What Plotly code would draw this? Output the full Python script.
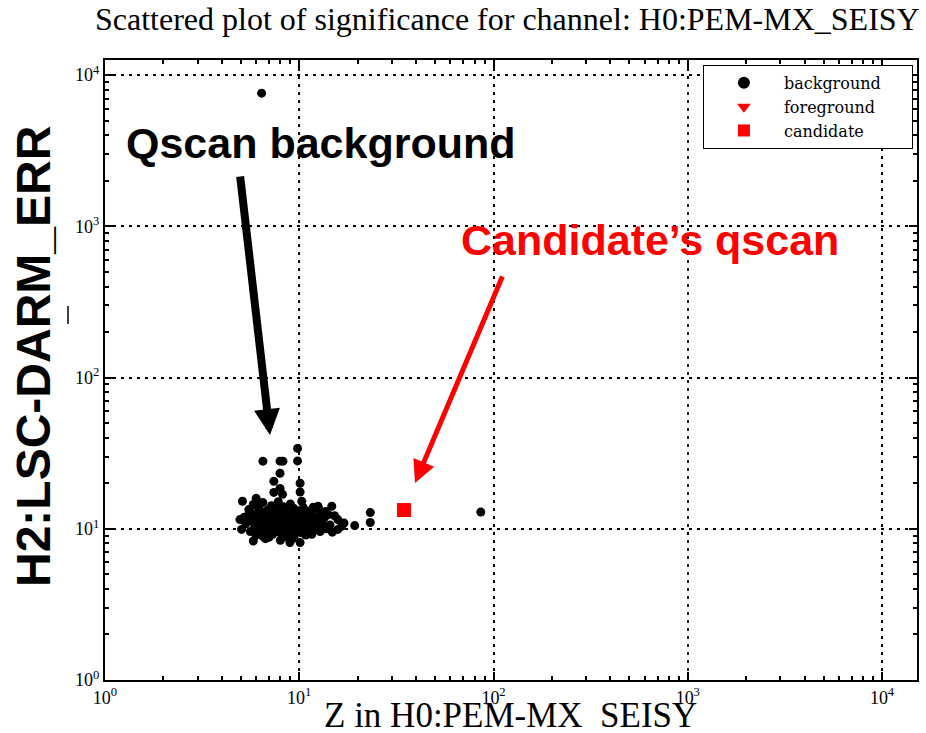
import plotly.graph_objects as go

# ---------------- data ----------------
bg_x = [
    6.4, 86.0,
    6.5, 7.96, 8.24, 9.8, 9.8, 7.96, 7.4, 10.1, 7.96, 7.4, 10.1,
    4.95, 5.05, 5.1, 6.0, 5.8, 6.5, 8.95, 10.1, 12.5, 14.7, 15.8, 15.8, 19.3, 23.2, 23.2, 11.6, 10.3, 8.2,
    5.3, 5.4, 5.5, 5.6, 5.7, 5.8, 5.9, 6.0, 6.0, 6.1,
    6.2, 6.3, 6.3, 6.4, 6.5, 6.5, 6.6, 6.7, 6.7, 6.8,
    6.9, 6.9, 7.0, 7.0, 7.1, 7.2, 7.2, 7.3, 7.3, 7.4,
    7.5, 7.5, 7.6, 7.6, 7.7, 7.8, 7.8, 7.9, 7.9, 8.0,
    8.1, 8.1, 8.2, 8.3, 8.3, 8.4, 8.5, 8.5, 8.6, 8.7,
    8.7, 8.8, 8.9, 9.0, 9.0, 9.1, 9.2, 9.3, 9.3, 9.4,
    9.5, 9.6, 9.7, 9.8, 9.9, 10.0, 10.1, 10.2, 10.3, 10.5,
    10.6, 10.7, 10.9, 11.0, 11.2, 11.4, 11.5, 11.7, 11.9, 12.1,
    12.3, 12.5, 12.8, 13.0, 13.2, 13.5, 13.8, 14.1, 14.4, 14.8,
    7.1, 7.4, 7.7, 8.0, 8.3, 8.6, 8.9, 9.2, 7.2, 8.4,
    6.6, 6.9, 7.6, 8.8, 9.5, 6.4, 7.8, 8.2, 9.1, 10.4,
    5.2, 5.6, 6.2, 7.0, 8.0, 9.4, 10.8, 11.8, 12.6, 6.1,
    13.7, 15.2, 16.5, 17.0,
    5.5, 5.9, 6.3, 6.7, 7.1, 7.5, 7.9, 8.3, 8.7, 9.1,
    9.6, 10.1, 10.7, 11.3, 12.0, 6.0, 6.8, 7.6, 8.4, 9.3,
    10.2, 11.1, 5.8, 6.6, 7.4, 8.2, 9.0, 9.9, 10.9, 12.2,
]
bg_y = [
    7600.0, 12.9,
    28.0, 28.0, 28.0, 34.0, 28.1, 23.3, 20.6, 20.0, 18.5, 17.4, 17.5,
    11.5, 9.9, 15.2, 15.9, 8.3, 8.9, 8.1, 8.1, 14.1, 14.1, 11.5, 9.9, 10.5, 12.8, 11.0, 9.2, 15.2, 16.9,
    10.8, 12.1, 13.4, 9.6, 11.3, 14.5, 10.2, 12.6, 9.1, 11.0,
    13.8, 10.5, 12.0, 9.4, 11.6, 14.9, 10.0, 12.9, 8.6, 11.2,
    10.6, 13.3, 9.7, 12.2, 11.0, 14.2, 10.3, 11.8, 9.2, 12.7,
    10.8, 13.6, 9.9, 11.4, 12.3, 10.4, 15.1, 11.9, 9.5, 13.0,
    10.9, 12.5, 9.8, 11.5, 14.0, 10.2, 12.0, 8.9, 11.1, 13.4,
    10.6, 12.3, 9.6, 11.4, 14.6, 10.3, 12.8, 11.0, 9.0, 13.6,
    10.7, 12.1, 9.8, 11.6, 13.1, 10.4, 12.4, 9.4, 11.2, 13.8,
    10.1, 11.8, 9.7, 12.6, 10.6, 11.4, 13.2, 9.9, 10.9, 12.0,
    10.3, 11.5, 9.6, 12.8, 10.8, 11.9, 10.0, 12.4, 10.6, 9.5,
    10.1, 11.1, 10.0, 11.3, 10.5, 11.8, 10.9, 11.7, 12.5, 12.8,
    11.9, 11.5, 12.9, 10.1, 11.1, 10.9, 13.8, 13.5, 12.3, 10.9,
    11.9, 12.8, 9.8, 8.8, 8.4, 8.7, 9.1, 13.9, 13.5, 14.2,
    13.0, 12.2, 10.4, 10.9,
    11.7, 10.6, 11.3, 10.4, 11.6, 10.2, 11.0, 10.8, 10.3, 11.2,
    10.0, 11.1, 10.5, 11.0, 11.3, 10.3, 11.1, 10.7, 12.2, 10.5,
    11.6, 10.2, 12.4, 12.6, 11.9, 10.0, 12.0, 11.9, 11.6, 11.0,
]
fg_x = [None]
fg_y = [None]
cand_x = [34.6]
cand_y = [13.3]

series_names = ["background", "foreground", "candidate"]

decades = [1, 10, 100, 1000, 10000]
decade_labels = ["10<sup>0</sup>", "10<sup>1</sup>", "10<sup>2</sup>", "10<sup>3</sup>", "10<sup>4</sup>"]

title_text = "Scattered plot of significance for channel: H0:PEM-MX_SEISY"
xlabel = "Z in H0:PEM-MX  SEISY"
ylabel = "H2:LSC-DARM_ERR"

serif = "Liberation Serif, serif"
serif_wide = "DejaVu Serif, serif"
sans = "Liberation Sans, Arial, sans-serif"

pad = "\u00a0" * 5  # right padding inside the legend box

fig = go.Figure()
fig.add_trace(go.Scatter(x=bg_x, y=bg_y, mode="markers", name=series_names[0] + pad,
                         marker=dict(color="black", size=9, line=dict(width=0))))
fig.add_trace(go.Scatter(x=fg_x, y=fg_y, mode="markers", name=series_names[1],
                         marker=dict(color="red", size=7, symbol="triangle-down")))
fig.add_trace(go.Scatter(x=cand_x, y=cand_y, mode="markers", name=series_names[2],
                         marker=dict(color="#ff0000", size=14, symbol="square", line=dict(width=0))))

axis_common = dict(
    type="log", tickmode="array", tickvals=decades, ticktext=decade_labels,
    ticks="inside", ticklen=8, tickwidth=1.5, tickcolor="black",
    showline=True, linewidth=2, linecolor="black", mirror="ticks",
    showgrid=True, gridcolor="black", gridwidth=2, griddash="3px,5px",
    zeroline=False, automargin=False,
    tickfont=dict(family=serif, size=18, color="black"),
    minor=dict(ticks="inside", ticklen=4, tickcolor="black", dtick="D1", showgrid=False),
)

fig.update_xaxes(range=[0, 4.18], ticklabelstandoff=0, **axis_common)
fig.update_yaxes(range=[0, 4.1], **axis_common)

fig.update_layout(
    width=926, height=733,
    margin=dict(l=105, r=9, t=60, b=53, autoexpand=False),
    plot_bgcolor="white", paper_bgcolor="white",
    title=dict(text=title_text, x=95 / 926, xanchor="left", xref="container",
               y=1 - 19 / 733, yanchor="middle", yref="container",
               font=dict(family=serif, size=32, color="black"), automargin=False),
    legend=dict(x=0.995, y=0.992, xanchor="right", yanchor="top",
                bgcolor="white", bordercolor="black", borderwidth=1,
                font=dict(family=serif_wide, size=16, color="black"),
                tracegroupgap=0, itemsizing="constant", itemwidth=70),
)

annotations = [
    dict(text=xlabel, x=(510 - 105) / 812, y=-(715 - 680) / 620, xref="paper", yref="paper",
         showarrow=False, xanchor="center", yanchor="middle",
         font=dict(family=serif, size=35, color="black")),
    dict(text="<b>" + ylabel + "</b>", x=(33 - 105) / 812, y=(680 - 357) / 620, xref="paper", yref="paper",
         showarrow=False, textangle=-90, xanchor="center", yanchor="middle",
         font=dict(family=sans, size=48, color="black")),
    dict(text="<b>Qscan background</b>", x=(320 - 105) / 812, y=(680 - 143) / 620, xref="paper", yref="paper",
         showarrow=False, xanchor="center", yanchor="middle",
         font=dict(family=sans, size=43, color="black")),
    dict(text="<b>Candidate’s qscan</b>", x=(650 - 105) / 812, y=(680 - 240) / 620, xref="paper", yref="paper",
         showarrow=False, xanchor="center", yanchor="middle",
         font=dict(family=sans, size=43, color="#ff0000")),
    dict(text="", x=(270 - 105) / 812, y=(680 - 435) / 620, xref="paper", yref="paper",
         showarrow=True, ax=-30, ay=-260, arrowhead=2, arrowsize=0.65, arrowwidth=8, arrowcolor="black"),
    dict(text="", x=(415 - 105) / 812, y=(680 - 483) / 620, xref="paper", yref="paper",
         showarrow=True, ax=88, ay=-208, arrowhead=2, arrowsize=0.9, arrowwidth=5, arrowcolor="#ff0000"),
]
fig.update_layout(annotations=annotations)

fig.add_shape(type="line", xref="paper", yref="paper",
              x0=(68 - 105) / 812, x1=(68 - 105) / 812,
              y0=(680 - 324) / 620, y1=(680 - 306) / 620,
              line=dict(color="black", width=1.5))

fig.write_html("out.html", config={"displayModeBar": False},
               post_script="document.body.style.margin='0px';document.body.style.padding='0px';")
